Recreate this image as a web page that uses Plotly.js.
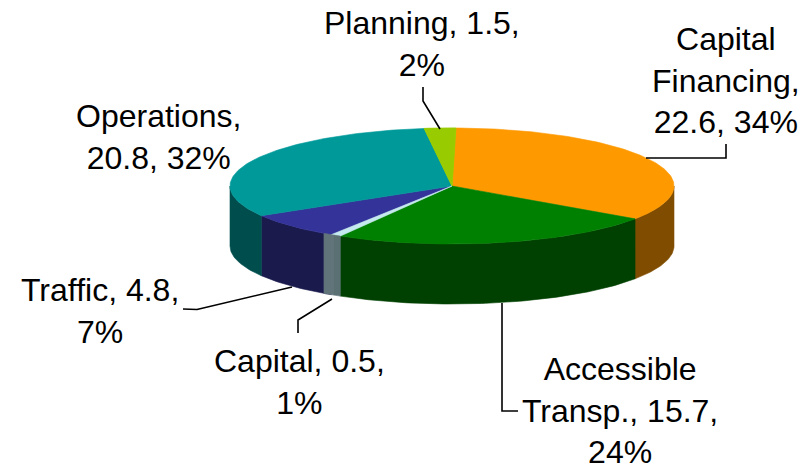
<!DOCTYPE html>
<html><head><meta charset="utf-8">
<script src="https://cdn.plot.ly/plotly-3.0.1.min.js"></script>
<style>html,body{margin:0;padding:0;background:#fff;overflow:hidden}#c{width:809px;height:466px}</style>
</head><body><div id="c"></div>
<script>
const categories=["Capital Financing","Accessible Transp.","Capital","Traffic","Operations","Planning"];
const values=[22.6,15.7,0.5,4.8,20.8,1.5];
const labelTexts=["Capital<br>Financing,<br>22.6, 34%","Accessible<br>Transp., 15.7,<br>24%","Capital, 0.5,<br>1%","Traffic, 4.8,<br>7%","Operations,<br>20.8, 32%","Planning, 1.5,<br>2%"];
const topColors=["#FF9900","#008000","#C4E9EE","#333399","#009999","#99CC00"];
const sideColors=["#804D00","#004000","#61747A","#1A1A4D","#004D4D","#4D6600"];
const capitalInnerSide="#5A7072";
const labelX=[725.5,620,299,100,158,422];
const labelY=[80,410,382,311,137,44];
const leaders=[
 [[646,726,726],[158,158,144]],
 [[502,502,518],[303,411,411]],
 [[332,298,298],[299,320,333]],
 [[292,197,183],[287,309.5,309]],
 [],
 [[423,423,440],[87,101,129]]
];
const cx=452,cy=186,rx=222,ry=58,depth=60,startDeg=1,capitalWallSweep=5;

const total=values.reduce((a,b)=>a+b,0);
function pt(d){const r=d*Math.PI/180;return [cx+rx*Math.sin(r),cy-ry*Math.cos(r)];}
function arc(a,b){const o=[];const n=Math.max(2,Math.ceil(Math.abs(b-a)));for(let i=0;i<=n;i++)o.push(pt(a+(b-a)*i/n));return o;}
let cum=startDeg;
const slices=values.map(v=>{const s=v/total*360;const r={a:cum,b:cum+s};cum+=s;return r;});
const ci=categories.indexOf("Capital");

const traces=[];
function poly(pts,color){traces.push({type:"scatter",mode:"lines",x:pts.map(p=>p[0]),y:pts.map(p=>p[1]),fill:"toself",fillcolor:color,line:{width:0.6,color:color},hoverinfo:"skip",showlegend:false});}
function wall(a,b,color){
  const top=arc(a,b);
  const bot=top.slice().reverse().map(p=>[p[0],p[1]+depth]);
  poly(top.concat(bot,[top[0]]),color);
}
const order=[0,1,3,4,5];
order.forEach(i=>{
  const a=Math.max(slices[i].a,90),b=Math.min(slices[i].b,270);
  if(b>a)wall(a,b,sideColors[i]);
});
// top faces
order.concat([5,ci]).forEach(i=>{
  poly([[cx,cy]].concat(arc(slices[i].a,slices[i].b),[[cx,cy]]),topColors[i]);
});
// the tiny slice's wall shows two faces, wider than its top
const capA=slices[ci].a,capMid=capA+capitalWallSweep*0.38,capB=capA+capitalWallSweep;
wall(capMid,capB,sideColors[ci]);
wall(capA,capMid,capitalInnerSide);
// leaders
leaders.forEach(l=>{if(l.length)traces.push({type:"scatter",mode:"lines",x:l[0],y:l[1],line:{color:"#000",width:1.6},hoverinfo:"skip",showlegend:false});});

const layout={width:809,height:466,margin:{l:0,r:0,t:0,b:0},paper_bgcolor:"#fff",plot_bgcolor:"#fff",showlegend:false,
 xaxis:{range:[0,809],visible:false,fixedrange:true},
 yaxis:{range:[466,0],visible:false,fixedrange:true},
 annotations:labelTexts.map((t,i)=>({text:t,x:labelX[i],y:labelY[i],xref:"x",yref:"y",xanchor:"center",yanchor:"middle",showarrow:false,align:"center",font:{family:"Liberation Sans, Arial, sans-serif",size:32,color:"#000"}}))};
Plotly.newPlot("c",traces,layout,{displayModeBar:false,staticPlot:true});
</script></body></html>
